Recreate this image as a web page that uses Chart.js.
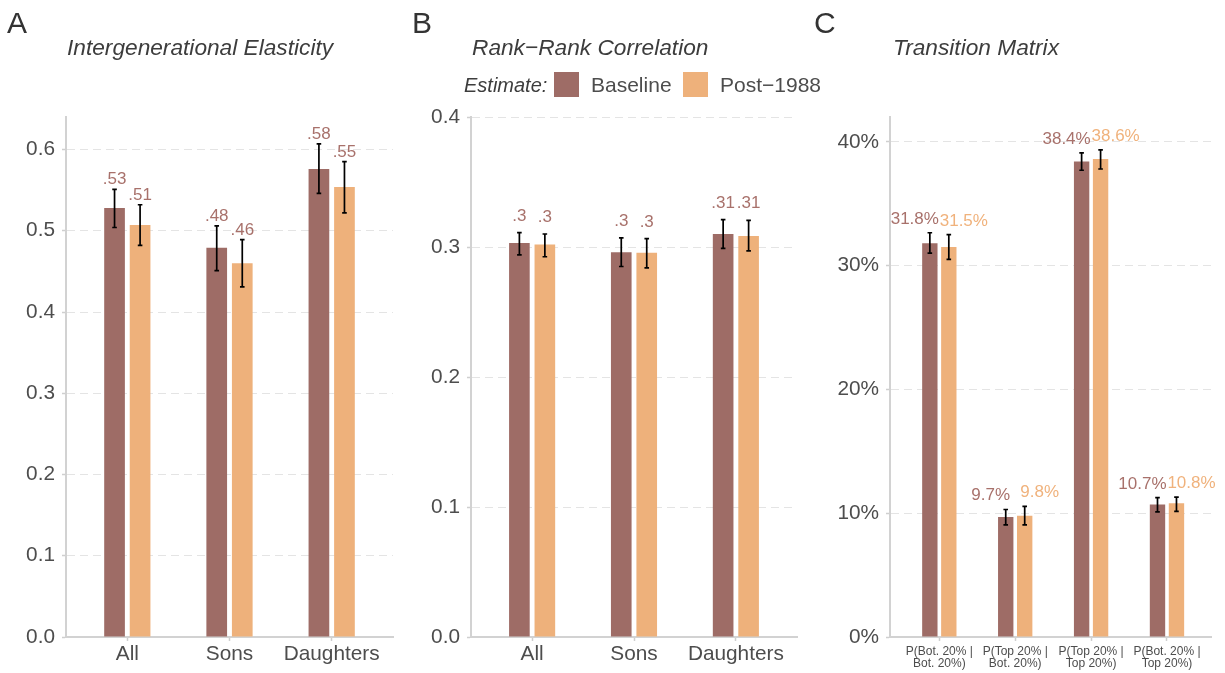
<!DOCTYPE html>
<html>
<head>
<meta charset="utf-8">
<script src="https://cdn.jsdelivr.net/npm/chart.js@4.4.1/dist/chart.umd.min.js"></script>
<style>
  body { margin: 0; background: #fff; }
  #wrap { position: relative; width: 1225px; height: 673px; font-family: "Liberation Sans", Arial, sans-serif; }
  #wrap canvas { position: absolute; top: 0; }
  .t { position: absolute; white-space: nowrap; line-height: 1; }
  .letter { font-size: 30px; color: #333; top: 8px; }
  .title { font-size: 22.7px; font-style: italic; color: #3d3d3d; top: 36px; }
  .sw { position: absolute; width: 25px; height: 25px; top: 72px; }
</style>
</head>
<body>
<div id="wrap">
  <canvas id="panelA" width="400" height="673" style="left:0"></canvas>
  <canvas id="panelB" width="400" height="673" style="left:400px"></canvas>
  <canvas id="panelC" width="425" height="673" style="left:800px"></canvas>

  <div class="t letter" style="left:7px">A</div>
  <div class="t letter" style="left:412px">B</div>
  <div class="t letter" style="left:814px">C</div>
  <div class="t title" style="left:67px">Intergenerational Elasticity</div>
  <div class="t title" style="left:472px">Rank−Rank Correlation</div>
  <div class="t title" style="left:893px">Transition Matrix</div>

  <div class="t" style="left:464px; top:75px; font-size:20px; font-style:italic; color:#3d3d3d">Estimate:</div>
  <div class="sw" style="left:554px; background:#9e6c66"></div>
  <div class="t" style="left:591px; top:74px; font-size:21px; color:#4d4d4d">Baseline</div>
  <div class="sw" style="left:683px; background:#eeb17b"></div>
  <div class="t" style="left:720px; top:74px; font-size:21px; color:#4d4d4d">Post−1988</div>
</div>
<script>
// couleurs et police
const family = '"Liberation Sans", Arial, sans-serif';
const baseColor = '#9e6c66';
const postColor = '#eeb17b';
const baseLabelColor = '#a8716b';
const postLabelColor = '#f0b27c';

// A - elasticidad intergeneracional
const groups = ['All', 'Sons', 'Daughters'];
const igeBase = [0.528, 0.479, 0.576];
const igeBaseLo = [0.504, 0.451, 0.546];
const igeBaseHi = [0.551, 0.506, 0.607];
const igePost = [0.507, 0.460, 0.554];
const igePostLo = [0.482, 0.431, 0.522];
const igePostHi = [0.532, 0.489, 0.585];
const igeTicks = [0, 0.1, 0.2, 0.3, 0.4, 0.5, 0.6];

// B - rank-rank
const rrcBase = [0.303, 0.296, 0.310];
const rrcBaseLo = [0.294, 0.285, 0.299];
const rrcBaseHi = [0.311, 0.307, 0.321];
const rrcPost = [0.302, 0.2956, 0.3085];
const rrcPostLo = [0.2925, 0.284, 0.297];
const rrcPostHi = [0.310, 0.3065, 0.3205];
const rrcTicks = [0, 0.1, 0.2, 0.3, 0.4];

// C - matriz de transicion (%)
const tmCats = [['P(Bot. 20% |', 'Bot. 20%)'], ['P(Top 20% |', 'Bot. 20%)'],
                ['P(Top 20% |', 'Top 20%)'], ['P(Bot. 20% |', 'Top 20%)']];
const tmBase = [31.8, 9.7, 38.4, 10.7];
const tmBaseLo = [31.0, 9.05, 37.7, 10.1];
const tmBaseHi = [32.65, 10.3, 39.1, 11.25];
const tmPost = [31.5, 9.8, 38.6, 10.8];
const tmPostLo = [30.5, 9.05, 37.8, 10.15];
const tmPostHi = [32.5, 10.55, 39.35, 11.3];
const tmTicks = [0, 10, 20, 30, 40];

const shortDec = v => v.toFixed(2).replace(/^0/, '').replace(/0+$/, '');

// barras de error + etiquetas
function barExtras(p) {
  return {
    id: 'barExtras',
    afterDatasetsDraw(chart) {
      const ctx = chart.ctx;
      const x = chart.scales.x, y = chart.scales.y;
      const vals = [p.base, p.post], los = [p.baseLo, p.postLo], his = [p.baseHi, p.postHi];
      ctx.save();
      [0, 1].forEach(d => {
        chart.getDatasetMeta(d).data.forEach((bar, i) => {
          const top = y.getPixelForValue(his[d][i]);
          const bot = y.getPixelForValue(los[d][i]);
          ctx.strokeStyle = '#000';
          ctx.lineWidth = 1.7;
          ctx.beginPath();
          ctx.moveTo(bar.x, top); ctx.lineTo(bar.x, bot);
          ctx.moveTo(bar.x - 2.3, top); ctx.lineTo(bar.x + 2.3, top);
          ctx.moveTo(bar.x - 2.3, bot); ctx.lineTo(bar.x + 2.3, bot);
          ctx.stroke();
          // etiquetas: en C van mas separadas que las barras
          const lx = p.labelDodge ? x.getPixelForValue(i + (d ? 1 : -1) * p.labelDodge) : bar.x;
          ctx.fillStyle = p.labelColors[d];
          ctx.font = '17px ' + family;
          ctx.textAlign = 'center';
          ctx.textBaseline = 'alphabetic';
          ctx.fillText(p.labelFmt(vals[d][i]), lx, top - p.gap);
        });
      });
      ctx.restore();
    }
  };
}

function makePanel(id, p) {
  const pts = arr => arr.map((v, i) => ({ x: i, y: v }));
  return new Chart(document.getElementById(id), {
    type: 'bar',
    data: {
      datasets: [
        { label: 'Baseline', data: pts(p.base), backgroundColor: baseColor },
        { label: 'Post−1988', data: pts(p.post), backgroundColor: postColor }
      ]
    },
    options: {
      responsive: false,
      animation: false,
      categoryPercentage: 0.5,
      barPercentage: 0.81,
      layout: { padding: { top: 117, right: p.padRight, bottom: 0, left: 0 } },
      plugins: { legend: { display: false }, tooltip: { enabled: false } },
      scales: {
        x: {
          type: 'linear',
          min: p.xMin, max: p.xMax,
          offset: false,
          afterBuildTicks: s => { s.ticks = p.cats.map((c, i) => ({ value: i })); },
          afterFit: s => { s.height = 36; },
          ticks: {
            callback: v => p.cats[v],
            autoSkip: false, maxRotation: 0,
            color: '#4d4d4d',
            font: { family: family, size: p.xFont, lineHeight: p.xLine },
            padding: p.xPad
          },
          grid: { offset: false, drawOnChartArea: false, tickLength: 4, tickColor: '#cfcfcf', tickWidth: 1.5 },
          border: { color: '#d2d2d2', width: 2 }
        },
        y: {
          min: 0, max: p.yMax,
          afterBuildTicks: s => { s.ticks = p.ticks.map(v => ({ value: v })); },
          afterFit: s => { s.width = p.yWidth; },
          ticks: {
            callback: p.tickFmt,
            autoSkip: false,
            color: '#4d4d4d',
            font: { family: family, size: 20.8 },
            padding: 7
          },
          grid: { color: '#e4e4e4', lineWidth: 1, tickLength: 4, tickColor: '#cfcfcf', tickWidth: 1.5 },
          border: { color: '#d2d2d2', width: 2, dash: [8, 5] }
        }
      }
    },
    plugins: [barExtras(p)]
  });
}

makePanel('panelA', {
  cats: groups, base: igeBase, post: igePost,
  baseLo: igeBaseLo, baseHi: igeBaseHi, postLo: igePostLo, postHi: igePostHi,
  ticks: igeTicks, yMax: 0.64, xMin: -0.6, xMax: 2.6, yWidth: 66, padRight: 7,
  tickFmt: v => v.toFixed(1), labelFmt: shortDec,
  labelColors: [baseLabelColor, baseLabelColor], gap: 5, labelDodge: 0,
  xFont: 20.8, xLine: 1.2, xPad: 1
});

makePanel('panelB', {
  cats: groups, base: rrcBase, post: rrcPost,
  baseLo: rrcBaseLo, baseHi: rrcBaseHi, postLo: rrcPostLo, postHi: rrcPostHi,
  ticks: rrcTicks, yMax: 0.4, xMin: -0.6, xMax: 2.6, yWidth: 71, padRight: 3,
  tickFmt: v => v.toFixed(1), labelFmt: shortDec,
  labelColors: [baseLabelColor, baseLabelColor], gap: 12, labelDodge: 0,
  xFont: 20.8, xLine: 1.2, xPad: 1
});

makePanel('panelC', {
  cats: tmCats, base: tmBase, post: tmPost,
  baseLo: tmBaseLo, baseHi: tmBaseHi, postLo: tmPostLo, postHi: tmPostHi,
  ticks: tmTicks, yMax: 42, xMin: -0.65, xMax: 3.58, yWidth: 90, padRight: 14,
  tickFmt: v => v + '%', labelFmt: v => v.toFixed(1) + '%',
  labelColors: [baseLabelColor, postLabelColor], gap: 9, labelDodge: 0.323,
  xFont: 12, xLine: 1.0, xPad: 5
});
</script>
</body>
</html>
